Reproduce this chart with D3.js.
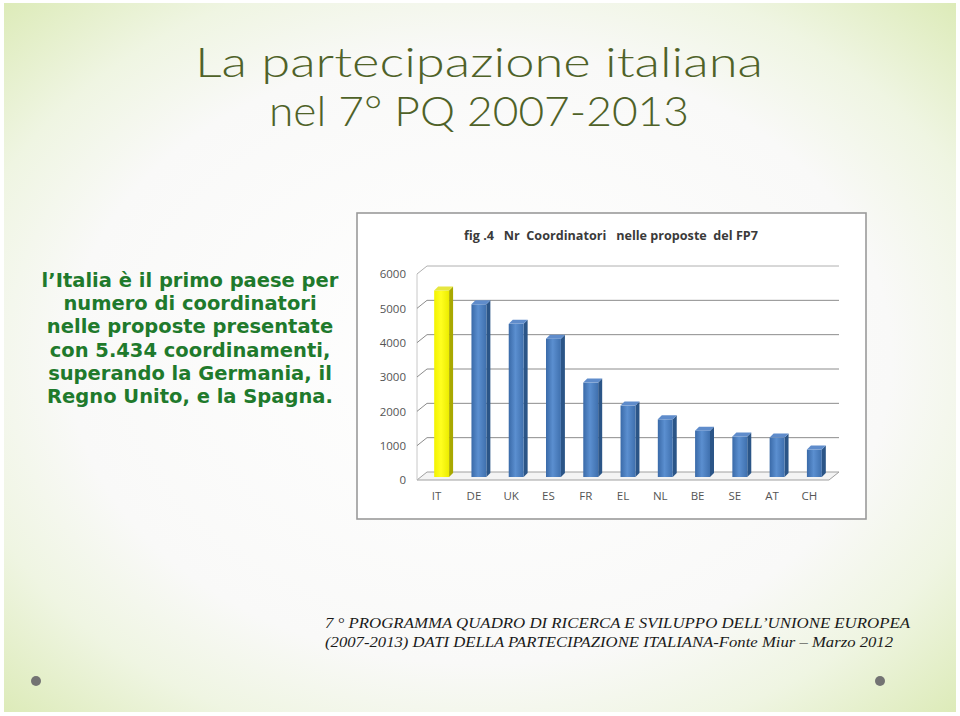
<!DOCTYPE html>
<html><head><meta charset="utf-8">
<script src="https://cdn.jsdelivr.net/npm/d3@7"></script>
<style>html,body{margin:0;padding:0;background:#fff}svg{display:block}</style>
</head><body>
<script>
const categories = ["IT","DE","UK","ES","FR","EL","NL","BE","SE","AT","CH"];
const values = [5434,5030,4460,4030,2750,2080,1680,1350,1180,1150,800];
const yTicks = [0,1000,2000,3000,4000,5000,6000];
const chartTitle = "fig .4   Nr  Coordinatori   nelle proposte  del FP7";
const slideTitle = ["La partecipazione italiana","nel 7° PQ 2007-2013"];
const bodyLines = ["l’Italia è il primo paese per","numero di coordinatori","nelle proposte presentate","con 5.434 coordinamenti,","superando la Germania, il","Regno Unito, e la Spagna."];
const footerLines = ["7 ° PROGRAMMA QUADRO DI RICERCA E SVILUPPO DELL’UNIONE EUROPEA","(2007-2013) DATI DELLA PARTECIPAZIONE ITALIANA-Fonte Miur – Marzo 2012"];

const W=960,H=716;
const svg=d3.select("body").append("svg").attr("width",W).attr("height",H);
const defs=svg.append("defs");
const bg=defs.append("radialGradient").attr("id","bg").attr("cx","50%").attr("cy","50%").attr("r","72%");
[[0,"#ffffff"],[0.6,"#f9f9f8"],[0.78,"#eff5e2"],[1,"#dbeab5"]].forEach(s=>bg.append("stop").attr("offset",s[0]).attr("stop-color",s[1]));
const gb=defs.append("linearGradient").attr("id","gblue").attr("x1","0").attr("x2","1");
[[0,"#3a6aa8"],[0.45,"#5b8fd0"],[1,"#3f70ae"]].forEach(s=>gb.append("stop").attr("offset",s[0]).attr("stop-color",s[1]));
const gy=defs.append("linearGradient").attr("id","gyel").attr("x1","0").attr("x2","1");
[[0,"#f2f200"],[0.45,"#ffff20"],[1,"#ecec00"]].forEach(s=>gy.append("stop").attr("offset",s[0]).attr("stop-color",s[1]));

svg.append("rect").attr("width",W).attr("height",H).attr("fill","#fff");
svg.append("rect").attr("x",4).attr("y",3).attr("width",952).attr("height",709).attr("fill","url(#bg)");

// slide title
svg.selectAll("text.title").data(slideTitle).enter().append("text").attr("class","title")
  .attr("x",479).attr("y",(d,i)=>77+i*49).attr("text-anchor","middle")
  .attr("font-family","Lato, 'DejaVu Sans', sans-serif").attr("font-weight",300).attr("font-size",42)
  .attr("fill","#4f6228")
  .attr("textLength",(d,i)=>i===0?568:420).attr("lengthAdjust","spacingAndGlyphs")
  .text(d=>d);

// body text
svg.selectAll("text.body").data(bodyLines).enter().append("text").attr("class","body")
  .attr("x",190).attr("y",(d,i)=>287+i*23.2).attr("text-anchor","middle")
  .attr("font-family","'DejaVu Sans', Verdana, sans-serif").attr("font-weight","bold").attr("font-size",19.5)
  .attr("fill","#1f7a2c").text(d=>d);

// footer
svg.selectAll("text.foot").data(footerLines).enter().append("text").attr("class","foot")
  .attr("x",325).attr("y",(d,i)=>628+i*19).attr("font-family","'Liberation Serif', 'DejaVu Serif', serif")
  .attr("font-style","italic").attr("font-size",15).attr("fill","#1a1a1a")
  .attr("textLength",(d,i)=>i===0?585:568).attr("lengthAdjust","spacingAndGlyphs").text(d=>d);

// dots
[[36,681],[880,681]].forEach(p=>svg.append("circle").attr("cx",p[0]).attr("cy",p[1]).attr("r",5).attr("fill","#737373"));

// chart panel
const panel={x:357,y:213,w:509,h:306};
svg.append("rect").attr("x",panel.x).attr("y",panel.y).attr("width",panel.w).attr("height",panel.h)
  .attr("fill","#fff").attr("stroke","#9a9a9a").attr("stroke-width",1.6);
svg.append("text").attr("x",611).attr("y",240).attr("text-anchor","middle")
  .attr("font-family","'Open Sans', 'Liberation Sans', sans-serif").attr("font-weight","bold").attr("font-size",12.5)
  .attr("fill","#3a3a3a").style("white-space","pre").attr("textLength",294).attr("lengthAdjust","spacingAndGlyphs")
  .text(chartTitle);

const dx=10, dy=-8;
const y=d3.scaleLinear().domain([0,6000]).range([480,274]);
const x=d3.scaleBand().domain(categories).range([421,831]).paddingInner(0.6).paddingOuter(0.3);
const xL=417, xR=829;
const g=svg.append("g");
// floor
g.append("path").attr("d",`M${xL},${y(0)}L${xL+dx},${y(0)+dy}L${xR+dx},${y(0)+dy}L${xR},${y(0)}Z`)
  .attr("fill","#f4f4f4").attr("stroke","#a0a0a0").attr("stroke-width",1);
// left wall edge
g.append("line").attr("x1",xL).attr("x2",xL).attr("y1",y(0)).attr("y2",y(6000)).attr("stroke","#c8c8c8");
// gridlines
yTicks.filter(v=>v>0).forEach(v=>{
  g.append("path").attr("d",`M${xL},${y(v)}L${xL+dx},${y(v)+dy}L${xR+dx},${y(v)+dy}`)
   .attr("fill","none").attr("stroke",v===6000?"#b0b0b0":"#8c8c8c").attr("stroke-width",1);
});
// y labels
const yAxis=d3.axisLeft(y).tickValues(yTicks).tickSize(0).tickPadding(0).tickFormat(d3.format("d"));
const ya=svg.append("g").attr("transform",`translate(406,0)`).call(yAxis);
ya.select(".domain").remove();
ya.selectAll("text").attr("font-family","'Open Sans', 'Liberation Sans', sans-serif").attr("font-size",11.5).attr("fill","#555");
// x labels
const xAxis=d3.axisBottom(x).tickSize(0).tickPadding(0);
const xa=svg.append("g").attr("transform",`translate(-3,492)`).call(xAxis);
xa.select(".domain").remove();
xa.selectAll("text").attr("font-family","'Open Sans', 'Liberation Sans', sans-serif").attr("font-size",11.5).attr("fill","#555");

// bars
const bw=x.bandwidth(), sd=4, bdx=2, bdy=-3;
const bars=g.selectAll("g.bar").data(categories.map((c,i)=>({c,v:values[i],i}))).enter().append("g");
bars.each(function(d){
  const s=d3.select(this);
  const x0=x(d.c)+bdx, yt=y(d.v)+bdy, yb=y(0)+bdy;
  const yel=d.i===0;
  s.append("path").attr("d",`M${x0+bw},${yt}L${x0+bw+sd},${yt-sd}L${x0+bw+sd},${yb-sd}L${x0+bw},${yb}Z`)
    .attr("fill",yel?"#a8a800":"#2b5587");
  s.append("rect").attr("x",x0).attr("y",yt).attr("width",bw).attr("height",yb-yt).attr("fill",yel?"url(#gyel)":"url(#gblue)");
  s.append("path").attr("d",`M${x0},${yt}L${x0+sd},${yt-sd}L${x0+bw+sd},${yt-sd}L${x0+bw},${yt}Z`)
    .attr("fill",yel?"#e6e640":"#5f8ccb");
});
</script>
</body></html>
